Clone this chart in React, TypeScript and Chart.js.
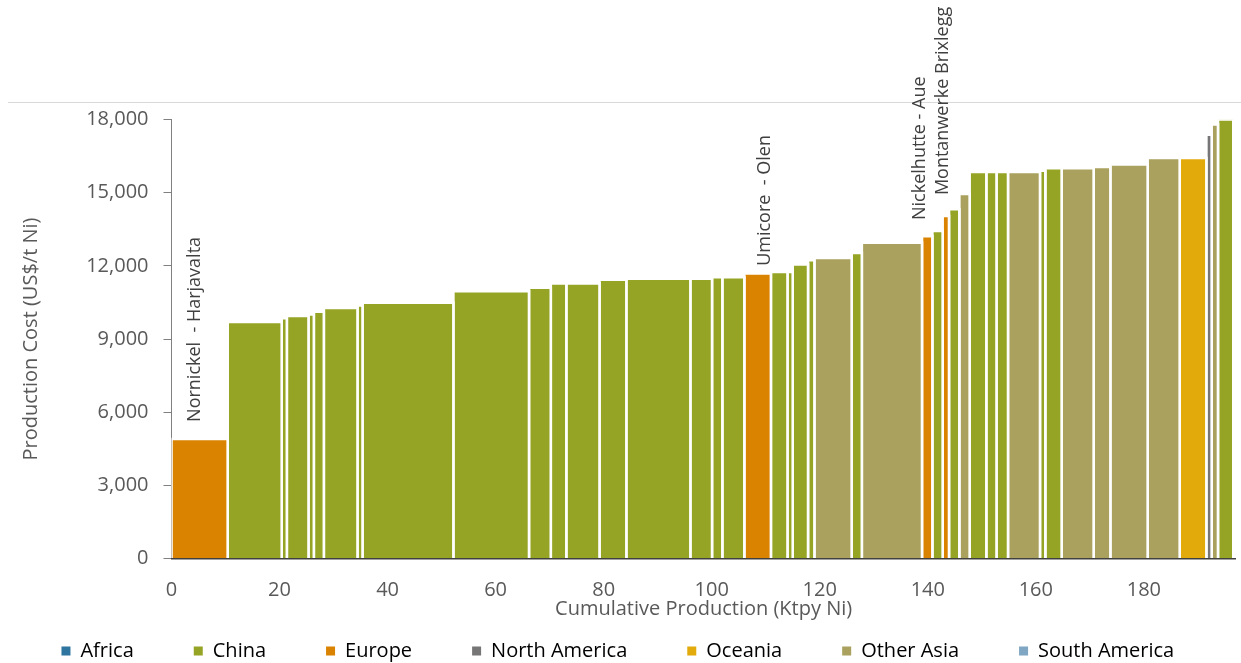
import React, { useEffect, useRef } from "react";
import { Chart, registerables } from "chart.js";

Chart.register(...registerables);

// ---------- data ----------
const REGIONS = ["Africa", "China", "Europe", "North America", "Oceania", "Other Asia", "South America"];
const REGION_COLORS = ["#2E75A0", "#95A425", "#D98300", "#767676", "#E2AA0A", "#A9A15D", "#7FA7C4"];

// cumulative production (Ktpy Ni) at the right edge of each plant
const cumulativeProduction = [
  10.4, 20.4, 21.35, 25.36, 26.35, 28.2, 34.43, 35.36, 52.18, 66.18,
  70.21, 73.09, 79.23, 84.2, 96.05, 100.06, 101.97, 106.04, 110.96, 114.03,
  115.0, 117.83, 119.01, 125.91, 127.79, 138.93, 140.85, 142.75, 143.93, 145.84,
  147.75, 150.84, 152.72, 154.85, 160.77, 161.76, 164.78, 170.7, 173.8, 180.7,
  186.63, 191.57, 192.55, 193.72, 196.55,
];

// production cost (US$/t Ni)
const productionCost = [
  4900, 9700, 9850, 9950, 10010, 10120, 10270, 10380, 10490, 10960,
  11100, 11280, 11280, 11430, 11470, 11470, 11530, 11530, 11690, 11750,
  11750, 12060, 12230, 12320, 12530, 12950, 13220, 13430, 14050, 14320,
  14950, 15850, 15850, 15850, 15850, 15900, 16000, 16000, 16050, 16160,
  16420, 16420, 17380, 17800, 18000,
];

const plantRegion = [
  "Europe", "China", "China", "China", "China", "China", "China", "China", "China", "China",
  "China", "China", "China", "China", "China", "China", "China", "China", "Europe", "China",
  "China", "China", "China", "Other Asia", "China", "Other Asia", "Europe", "China", "Europe", "China",
  "Other Asia", "China", "China", "China", "Other Asia", "China", "China", "Other Asia", "Other Asia", "Other Asia",
  "Other Asia", "Oceania", "North America", "Other Asia", "China",
];

const xTickValues = [0, 20, 40, 60, 80, 100, 120, 140, 160, 180];

const plantLabelTexts = ["Nornickel  - Harjavalta", "Umicore  - Olen", "Nickelhutte - Aue", "Montanwerke Brixlegg"];
const plantLabelX = [4.3, 109.9, 138.55, 142.85];
const plantLabelY = [5600, 12000, 13880, 14900];

// ---------- layout constants ----------
const FONT = "'Open Sans', 'Noto Sans', sans-serif";
const CANVAS_W = 1241;
const CANVAS_H = 663;
const LEGEND_FONT = 20;
const LEGEND_PAD = 60;
const LEGEND_TEXT_Y = 651;
const PLOT_TOP = 119.5;
const PLOT_BOTTOM = 558.5;
const PLOT_LEFT = 171.5;
const PLOT_RIGHT = 1235.7;
const X_AXIS_HEIGHT = 55;
const X_TITLE_Y = 609;
const TITLE_FONT = 20;
const TICK_FONT = 20;

const plantLabelPlugin = {
  id: "plantLabels",
  afterLayout(chart: any) {
    // place the legend row at its reference height
    const lg = chart.legend;
    if (lg) {
      lg.top = LEGEND_TEXT_Y - LEGEND_FONT / 2 - LEGEND_PAD;
      lg.bottom = CANVAS_H;
      lg.height = lg.bottom - lg.top;
    }
  },
  afterDatasetsDraw(chart: any) {
    const { ctx, scales } = chart;
    const xs = scales.x;
    const ys = scales.y;
    ctx.save();
    ctx.font = `18px ${FONT}`;
    ctx.fillStyle = "#404040";
    ctx.textAlign = "left";
    ctx.textBaseline = "middle";
    plantLabelTexts.forEach((t, i) => {
      ctx.save();
      ctx.translate(xs.getPixelForValue(plantLabelX[i]), ys.getPixelForValue(plantLabelY[i]));
      ctx.rotate(-Math.PI / 2);
      ctx.fillText(t, 0, 0);
      ctx.restore();
    });
    ctx.restore();
  },
};

export default function App() {
  const canvasRef = useRef<HTMLCanvasElement | null>(null);

  useEffect(() => {
    if (!canvasRef.current) return;

    const datasets = productionCost.map((cost, i) => {
      const start = i === 0 ? 0 : cumulativeProduction[i - 1];
      const end = cumulativeProduction[i];
      const color = REGION_COLORS[REGIONS.indexOf(plantRegion[i])];
      return {
        type: "line" as const,
        label: plantRegion[i],
        data: [
          { x: start, y: 0 },
          { x: start, y: cost },
          { x: end, y: cost },
          { x: end, y: 0 },
        ],
        backgroundColor: color,
        borderColor: "#ffffff",
        borderWidth: 2.6,
        fill: "origin",
        pointRadius: 0,
        pointHoverRadius: 0,
        tension: 0,
        clip: 0,
      };
    });

    const chart = new Chart(canvasRef.current, {
      type: "line",
      data: { datasets: datasets as any },
      plugins: [plantLabelPlugin as any],
      options: {
        animation: false,
        responsive: false,
        devicePixelRatio: 1,
        events: [],
        layout: {
          padding: { top: PLOT_TOP, right: CANVAS_W - PLOT_RIGHT, left: 0, bottom: 0 },
        },
        plugins: {
          tooltip: { enabled: false },
          legend: {
            position: "bottom",
            maxHeight: CANVAS_H - PLOT_BOTTOM - X_AXIS_HEIGHT,
            onClick: () => {},
            labels: {
              boxWidth: 9,
              boxHeight: 9,
              padding: LEGEND_PAD,
              color: "#595959",
              font: { family: FONT, size: LEGEND_FONT },
              generateLabels: () =>
                REGIONS.map((r, i) => ({
                  text: r,
                  fillStyle: REGION_COLORS[i],
                  strokeStyle: REGION_COLORS[i],
                  lineWidth: 0,
                  hidden: false,
                  index: i,
                })) as any,
            },
          } as any,
        },
        scales: {
          x: {
            type: "linear",
            position: "bottom",
            min: 0,
            max: 197,
            z: 1,
            grid: { display: false, drawTicks: false },
            border: { display: true, color: "#404040", width: 1.5, z: 1 } as any,
            ticks: {
              color: "#595959",
              font: { family: FONT, size: TICK_FONT },
              padding: 20,
              autoSkip: false,
              maxRotation: 0,
            },
            afterBuildTicks: (scale: any) => {
              scale.ticks = xTickValues.map((v) => ({ value: v }));
            },
            afterFit: (scale: any) => {
              scale.height = X_AXIS_HEIGHT;
            },
            title: {
              display: true,
              text: "Cumulative Production (Ktpy Ni)",
              color: "#595959",
              font: { family: FONT, size: TITLE_FONT },
              padding: {
                top: 0,
                bottom: PLOT_BOTTOM + X_AXIS_HEIGHT - (TITLE_FONT * 1.2) / 2 - X_TITLE_Y,
              },
            },
          },
          y: {
            type: "linear",
            min: 0,
            max: 18000,
            grid: { drawOnChartArea: false, drawTicks: true, tickLength: 8, color: "#808080" },
            border: { display: true, color: "#808080", width: 1 },
            ticks: {
              stepSize: 3000,
              color: "#595959",
              font: { family: FONT, size: TICK_FONT },
              padding: 15,
              callback: (v: any) => Number(v).toLocaleString("en-US"),
            },
            afterFit: (scale: any) => {
              scale.width = PLOT_LEFT;
            },
            title: {
              display: true,
              text: "Production Cost (US$/t Ni)",
              color: "#595959",
              font: { family: FONT, size: TITLE_FONT },
              padding: { top: 19, bottom: 0 },
            },
          },
        },
      },
    });

    return () => chart.destroy();
  }, []);

  return (
    <div
      style={{
        position: "fixed",
        left: 0,
        top: 0,
        width: CANVAS_W,
        height: CANVAS_H,
        overflow: "hidden",
        background: "#ffffff",
      }}
    >
      <div style={{ position: "absolute", left: 8, top: 102, width: CANVAS_W - 8, height: 1, background: "#d9d9d9" }} />
      <canvas
        ref={canvasRef}
        width={CANVAS_W}
        height={CANVAS_H}
        style={{ position: "absolute", left: 0, top: 0, width: CANVAS_W, height: CANVAS_H }}
      />
    </div>
  );
}
